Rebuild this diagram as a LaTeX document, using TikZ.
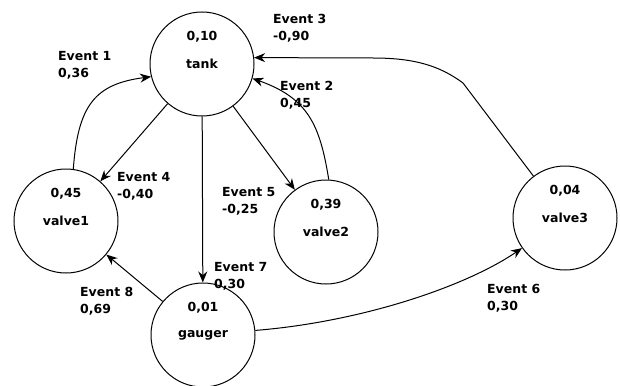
\documentclass[tikz,border=0pt]{standalone}
\usepackage{fontspec}
\setmainfont{DejaVu Sans}
\usetikzlibrary{arrows.meta}
\begin{document}
\begin{tikzpicture}[x=1pt,y=-1pt,
  txt/.style={font=\fontsize{12.5}{14}\selectfont\bfseries},
  state/.style={circle,draw,line width=1pt,minimum size=104pt,inner sep=0pt,txt},
  val/.style={txt,inner sep=0pt,yshift=27pt},
  lbl/.style={anchor=north west,inner sep=0pt,align=left,font=\fontsize{12.5}{17}\selectfont\bfseries},
  arr/.style={line width=1pt,-{Stealth[length=11pt,width=9pt]}}]
\fill[white] (0,0) rectangle (620,385);
\useasboundingbox (0,0) rectangle (620,385);

\node[state,label={[val]center:0,10}] (tank) at (202,64) {tank};
\node[state,label={[val]center:0,45}] (valve1) at (66,221) {valve1};
\node[state,label={[val]center:0,39}] (valve2) at (326,232) {valve2};
\node[state,label={[val]center:0,04}] (valve3) at (565,218) {valve3};
\node[state,label={[val]center:0,01}] (gauger) at (203,335) {gauger};

% Event 1: valve1 -> tank
\draw[arr] (valve1.82) .. controls (78,105) and (95,84) .. (tank.194);
% Event 4: tank -> valve1
\draw[arr] (tank) -- (valve1);
% Event 7: tank -> gauger
\draw[arr] (tank) -- (gauger);
% Event 5: tank -> valve2
\draw[arr] (tank) -- (valve2);
% Event 8: gauger -> valve1
\draw[arr] (gauger) -- (valve1);
% Event 2: valve2 -> tank
\draw[arr] (valve2.87) .. controls (320,125) and (308,98) .. (tank.-16);
% Event 3: valve3 -> tank
\coordinate (c3a) at (463,83);
\coordinate (c3b) at (373,58);
\draw[arr] (valve3.127) -- (c3a) .. controls (440,66) and (415,58) .. (c3b) -- (tank.7);
% Event 6: gauger -> valve3
\draw[arr] (gauger.5) .. controls (360,322) and (465,287) .. (valve3.215);

\node[lbl] (l1) at (58,51) {Event 1\\0,36};
\node[lbl] (l3) at (273,14) {Event 3\\-0,90};
\node[lbl] (l2) at (280,81) {Event 2\\0,45};
\node[lbl] (l4) at (117,172) {Event 4\\-0,40};
\node[lbl] (l5) at (222,187) {Event 5\\-0,25};
\node[lbl] (l7) at (214,262) {Event 7\\0,30};
\node[lbl] (l8) at (80,287) {Event 8\\0,69};
\node[lbl] (l6) at (487,284) {Event 6\\0,30};
\end{tikzpicture}
\end{document}
